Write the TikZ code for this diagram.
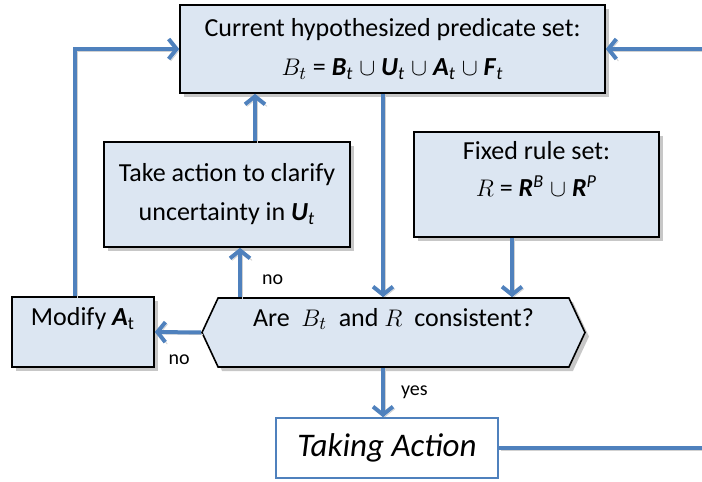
\documentclass[tikz,border=0pt]{standalone}
\usepackage{fontspec}
\setmainfont{Carlito}
\usetikzlibrary{arrows.meta,shapes.symbols,shadows,calc}
\definecolor{boxblue}{HTML}{DCE6F2}
\definecolor{lineblue}{HTML}{4F81BD}
\newcommand{\bi}[1]{\textbf{\textit{#1}}}
\tikzset{
  box/.style={draw=black, line width=0.8pt, fill=boxblue, align=center,
    font=\fontsize{13}{15.5}\selectfont,
    drop shadow={shadow xshift=2pt, shadow yshift=-2pt, fill=black!22, opacity=1}},
  flowline/.style={draw=lineblue, line width=2pt,
    preaction={draw=black!18, transform canvas={shift={(1pt,-1pt)}}}},
  flow/.style={flowline, -{Straight Barb[length=4pt,width=10pt]}},
  lbl/.style={font=\fontsize{10}{12}\selectfont, inner sep=1pt}
}

\begin{document}
\begin{tikzpicture}[x=0.5pt, y=-0.5pt]
\useasboundingbox (0,0) rectangle (702,482);

\node[box, minimum width=212.5pt, minimum height=44pt] (top) at (392.5,49)
  {Current hypothesized predicate set:\\[4pt]
   $B_t$ = \bi{B}\textsubscript{\textit{t}} $\cup$ \bi{U}\textsubscript{\textit{t}} $\cup$ \bi{A}\textsubscript{\textit{t}} $\cup$ \bi{F}\textsubscript{\textit{t}}};
\node[box, minimum width=123pt, minimum height=52.5pt] (take) at (227,194.5)
  {Take action to clarify\\[4pt] uncertainty in \bi{U}\textsubscript{\textit{t}}};
\node[box, minimum width=122.5pt, minimum height=52.5pt] (fixed) at (536.5,184.5)
  {Fixed rule set:\\[3pt] $R$ = \bi{R}\textsuperscript{\textit{B}} $\cup$ \bi{R}\textsuperscript{\textit{P}}\\[0pt]\mbox{}};
\node[box, minimum width=71pt, minimum height=35pt] (modify) at (83,332)
  {Modify \bi{A}\textsubscript{t}\\[0pt]\mbox{}};
\node[box, shape=signal, signal to=west and east, signal pointer angle=130,
  minimum width=191.5pt, minimum height=34.5pt] (hex) at (393.5,332.5)
  {Are \ $B_t$\ \ and $R$\ \ consistent?\\[0pt]\mbox{}};
\node[draw=lineblue, line width=0.8pt, fill=white, minimum width=111pt, minimum height=30pt,
  font=\fontsize{16.5}{19}\selectfont\itshape] (act) at (387,448) {Taking Action};

\coordinate (inR) at (702,49);
\coordinate (outR) at (702,448);

\draw[flow] ($(modify.north)+(-8,0)$) |- (top.west);
\draw[flow] (inR) -- (top.east);
\draw[flow] ($(take.north)+(28,0)$) coordinate (u1) -- (u1 |- top.south);
\draw[flow] ($(top.south)+(-9.5,0)$) coordinate (d1) -- (d1 |- hex.north);
\draw[flow] ($(fixed.south)+(-24.5,0)$) coordinate (d2) -- (d2 |- hex.north);
\coordinate (u2) at ($(take.south)+(13,0)$);
\draw[flow] (u2 |- hex.north) -- (u2) node[lbl, pos=0.35, right=9pt] {no};
\draw[flow] (hex.west) -- (modify.east) node[lbl, at start, xshift=-11pt, yshift=-13.5pt] {no};
\draw[flow] ($(hex.south)+(-10.5,0)$) coordinate (d3) -- (d3 |- act.north) node[lbl, midway, right=7pt] {yes};
\draw[flowline] (act.east) -- (outR);
\end{tikzpicture}
\end{document}
